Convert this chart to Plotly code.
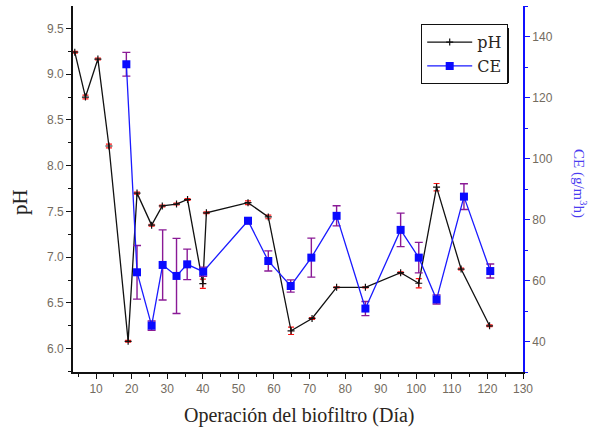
import plotly.graph_objects as go

# pH series: operation day, value, standard deviation
ph_day = [4, 7, 10.5, 13.6, 19, 21.5, 25.6, 28.6, 32.6, 35.7, 40, 41, 52.7, 58.4,
          64.8, 70.7, 77.6, 85.7, 95.6, 100.7, 105.7, 112.6, 120.6]
ph_val = [9.24, 8.75, 9.165, 8.215, 6.08, 7.70, 7.35, 7.56, 7.58, 7.63, 6.71, 7.485,
          7.595, 7.44, 6.195, 6.33, 6.67, 6.67, 6.83, 6.715, 7.765, 6.87, 6.25]
ph_err = [0.01, 0.02, 0.01, 0.02, 0.01, 0.01, 0.01, 0.01, 0.01, 0.01, 0.05, 0.01,
          0.02, 0.02, 0.04, 0.01, 0.005, 0.005, 0.01, 0.05, 0.04, 0.01, 0.01]

# Elimination capacity (CE) series
ce_day = [18.5, 21.5, 25.6, 28.7, 32.6, 35.6, 40.1, 52.7, 58.4, 64.7, 70.5, 77.6,
          85.7, 95.6, 100.7, 105.7, 113.4, 120.8]
ce_val = [130.9, 62.7, 45.2, 65.1, 61.5, 65.3, 62.9, 79.6, 66.4, 58.2, 67.5, 81.2,
          50.8, 76.6, 67.5, 53.8, 87.5, 63.1]
ce_err = [3.9, 8.8, 1.5, 11.5, 12.3, 5.0, 1.5, 1.0, 3.3, 2.0, 6.4, 3.3,
          2.3, 5.5, 5.0, 1.5, 4.2, 2.3]

x_ticks = [10, 20, 30, 40, 50, 60, 70, 80, 90, 100, 110, 120, 130]
ph_ticks = [6.0, 6.5, 7.0, 7.5, 8.0, 8.5, 9.0, 9.5]
ce_ticks = [40, 60, 80, 100, 120, 140]

W, H = 592, 431
L, R, T, B = 73, 69, 6, 59
PW, PH_ = W - L - R, H - T - B

def px_x(p):
    return (p - L) / PW

def px_y(p):
    return (H - B - p) / PH_

tick_font = dict(family="Liberation Sans, Arial, sans-serif", size=12, color="#736b60")
serif = "Liberation Serif, Times New Roman, serif"
wide_serif = "DejaVu Serif, serif"

fig = go.Figure()

fig.add_trace(go.Scatter(
    x=ph_day, y=ph_val, name="pH", mode="lines+markers",
    line=dict(color="#111111", width=1.3),
    marker=dict(symbol="cross-thin", size=5, color="#111111",
                line=dict(color="#111111", width=1.2)),
    error_y=dict(type="data", array=ph_err, visible=True,
                 color="#ff1010", thickness=1.2, width=3),
    yaxis="y",
))

fig.add_trace(go.Scatter(
    x=ce_day, y=ce_val, name="CE", mode="lines+markers",
    line=dict(color="#1a1aff", width=1.3),
    marker=dict(symbol="square", size=8, color="#0a0aff"),
    error_y=dict(type="data", array=ce_err, visible=True,
                 color="#8a1a96", thickness=1.4, width=4),
    yaxis="y2",
))

axis_common = dict(showgrid=False, zeroline=False, showline=True, linewidth=1.8,
                   ticklen=5, tickwidth=1.3, tickfont=tick_font)

# legend box corners (px) and its drop shadow
LEG_X0, LEG_Y0 = 421, 24
SH = 4

fig.update_layout(
    width=W, height=H,
    margin=dict(l=L, r=R, t=T, b=B),
    paper_bgcolor="white", plot_bgcolor="white",
    showlegend=True,
    xaxis=dict(range=[3.5, 130], tickvals=x_ticks, ticks="outside",
               linecolor="#111111", tickcolor="#111111",
               minor=dict(ticks="outside", dtick=5, tick0=0, ticklen=3,
                          tickcolor="#111111", tickwidth=1.2),
               **axis_common),
    xaxis2=dict(range=[3.5, 130], overlaying="x", side="top", matches="x",
                tickvals=x_ticks, ticks="inside", showticklabels=False,
                linecolor="#111111", tickcolor="#111111",
                minor=dict(ticks="inside", dtick=5, tick0=0, ticklen=3,
                           tickcolor="#111111", tickwidth=1.2),
                **axis_common),
    yaxis=dict(range=[5.745, 9.745], tickvals=ph_ticks, tickformat=".1f",
               ticks="outside", linecolor="#111111", tickcolor="#111111",
               minor=dict(ticks="outside", dtick=0.25, tick0=0, ticklen=3,
                          tickcolor="#111111", tickwidth=1.2),
               **axis_common),
    yaxis2=dict(range=[30, 150], overlaying="y", side="right",
                tickvals=ce_ticks, ticks="outside",
                linecolor="#1010ff", tickcolor="#1010ff",
                minor=dict(ticks="outside", dtick=10, tick0=0, ticklen=3,
                           tickcolor="#1010ff", tickwidth=1.2),
                **axis_common),
    legend=dict(x=px_x(LEG_X0), y=px_y(LEG_Y0), xanchor="left", yanchor="top",
                bgcolor="white", bordercolor="#111111", borderwidth=1.2,
                font=dict(family=wide_serif, size=16, color="#2a2520"),
                itemwidth=45, tracegroupgap=0),
    shapes=[dict(type="rect", xref="paper", yref="paper",
                 x0=px_x(LEG_X0 + SH), x1=px_x(505 + SH),
                 y0=px_y(79 + SH), y1=px_y(LEG_Y0 + SH),
                 fillcolor="#111111", line=dict(width=0), layer="above")],
    annotations=[
        dict(text="pH", x=px_x(20), y=px_y(202), xref="paper", yref="paper",
             showarrow=False, textangle=-90, xanchor="center", yanchor="middle",
             font=dict(family=serif, size=21, color="#222222")),
        dict(text="CE (g/m<sup>3</sup>h)", x=px_x(580), y=px_y(183),
             xref="paper", yref="paper", showarrow=False, textangle=90,
             xanchor="center", yanchor="middle",
             font=dict(family=serif, size=15, color="#4a3cf0")),
        dict(text="Operación del biofiltro (Día)", x=px_x(298.5), y=px_y(416),
             xref="paper", yref="paper", showarrow=False,
             xanchor="center", yanchor="middle",
             font=dict(family=serif, size=20, color="#2a2520")),
    ],
)

fig.write_html("out.html")
